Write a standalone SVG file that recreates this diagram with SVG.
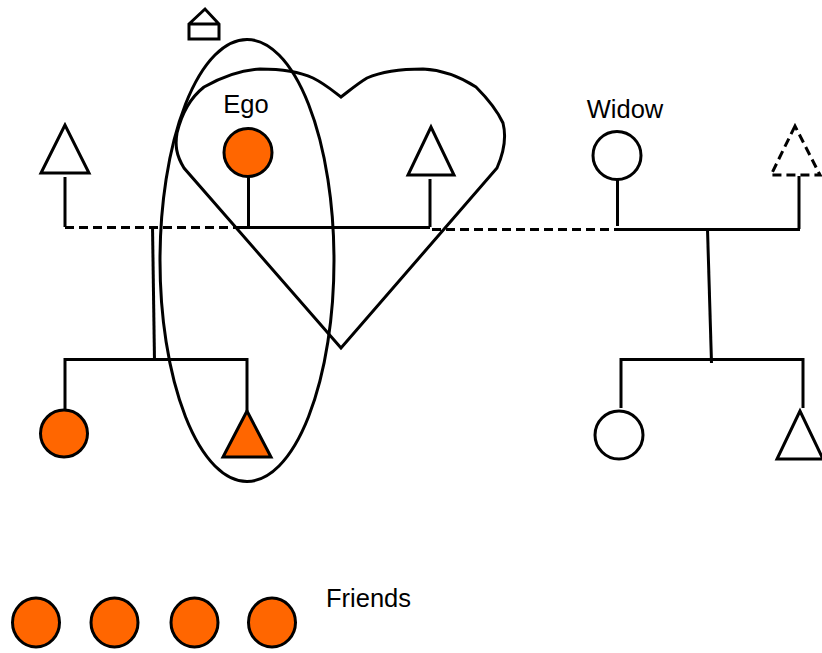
<svg xmlns="http://www.w3.org/2000/svg" width="822" height="653" viewBox="0 0 822 653">
<style>
.s{fill:none;stroke:#000;stroke-width:3}
.d{fill:none;stroke:#000;stroke-width:3;stroke-dasharray:9 5}
.w{fill:#fff;stroke:#000;stroke-width:3}
.o{fill:#ff6600;stroke:#000;stroke-width:3}
.t{font-family:"Liberation Sans",Arial,sans-serif;font-size:25.5px;fill:#000}
</style>
<rect width="822" height="653" fill="#fff"/>
<g id="house">
<path class="s" d="M189,24 L205,9 L219,24 L219,39 L189,39 Z M189,24 L219,24"/>
</g>
<g id="ellipse">
<ellipse class="s" cx="247" cy="260.5" rx="87" ry="221"/>
</g>
<g id="heart">
<path class="s" d="M184,168 C176,155 175,145 177,133 C182,112 190,98 204,87 C220,78 240,70 260,69 C285,69 300,72 313,78 C325,84 333,91 341,97 C349,91 357,84 367,78 C385,70 405,69 423,69 C445,70 462,78 476,87 C487,98 497,110 503,123 C506,135 505,150 497,168 L341,348 Z"/>
</g>
<g id="connectors">
<line class="s" x1="65" y1="177" x2="65" y2="227"/>
<line class="d" x1="65" y1="227.5" x2="240" y2="227.5"/>
<line class="s" x1="240" y1="227.5" x2="430" y2="227.5"/>
<line class="s" x1="248.5" y1="177" x2="248.5" y2="227"/>
<line class="s" x1="430" y1="179" x2="430" y2="227"/>
<line class="d" x1="432" y1="229.5" x2="615" y2="229.5"/>
<line class="s" x1="615" y1="229.5" x2="800" y2="229.5"/>
<line class="s" x1="617.5" y1="179" x2="617.5" y2="226"/>
<line class="s" x1="799" y1="176" x2="799" y2="229"/>
<line class="s" x1="152.5" y1="226" x2="154.5" y2="361"/>
<line class="s" x1="64" y1="359.5" x2="248" y2="359.5"/>
<line class="s" x1="65" y1="358" x2="65" y2="409"/>
<line class="s" x1="247" y1="358" x2="247" y2="411"/>
<line class="s" x1="707.5" y1="229" x2="711.5" y2="363"/>
<line class="s" x1="621" y1="359.5" x2="804" y2="359.5"/>
<line class="s" x1="621" y1="358" x2="621" y2="408"/>
<line class="s" x1="803" y1="358" x2="803" y2="408"/>
</g>
<g id="ego">
<circle class="o" cx="248" cy="152.5" r="24"/>
<text class="t" x="246" y="113" text-anchor="middle">Ego</text>
</g>
<g id="father-ego">
<polygon class="w" points="65,125 41,173 89,173"/>
</g>
<g id="husband">
<polygon class="w" points="431,127 408,175 454,175"/>
</g>
<g id="widow">
<circle class="w" cx="617" cy="155.5" r="24"/>
<text class="t" x="625" y="118" text-anchor="middle">Widow</text>
</g>
<g id="dead-husband">
<polygon class="d" points="795,126 771,175 820,175"/>
</g>
<g id="sister">
<circle class="o" cx="64" cy="433.5" r="23.5"/>
</g>
<g id="brother">
<polygon class="o" points="247,411 223,457 271,457"/>
</g>
<g id="widow-daughter">
<circle class="w" cx="619" cy="435" r="24"/>
</g>
<g id="widow-son">
<polygon class="w" points="800,411 777,459 823,459"/>
</g>
<g id="friends">
<ellipse class="o" cx="36" cy="622.5" rx="23.5" ry="24.5"/>
<ellipse class="o" cx="114.5" cy="622.5" rx="23.5" ry="24.5"/>
<ellipse class="o" cx="194.5" cy="622.5" rx="23.5" ry="24.5"/>
<ellipse class="o" cx="272" cy="622.5" rx="23.5" ry="24.5"/>
<text class="t" x="326" y="607">Friends</text>
</g>
</svg>
